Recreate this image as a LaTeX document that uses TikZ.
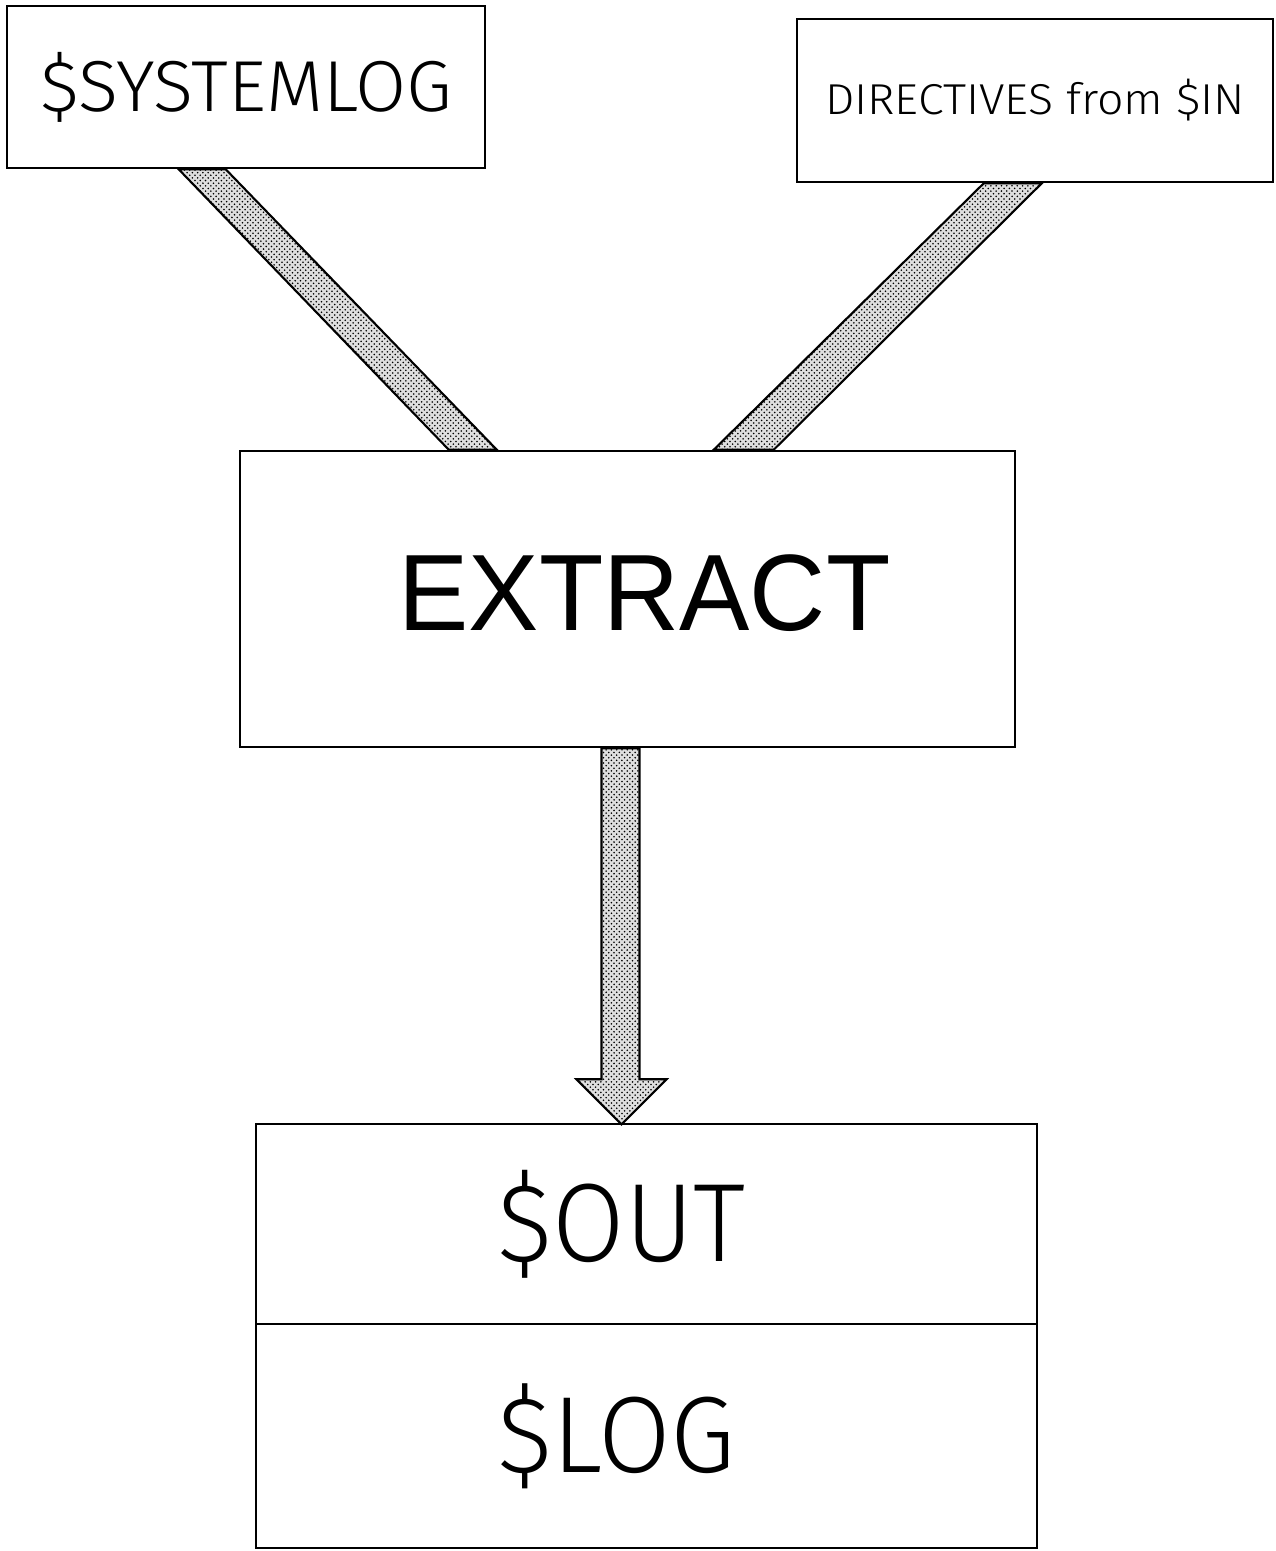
\documentclass[tikz,border=0pt]{standalone}
\usepackage{fontspec}
\setmainfont{Liberation Sans}
\IfFontExistsTF{Fira Sans Light}{\newfontfamily\thinfont{Fira Sans Light}}{%
  \IfFontExistsTF{DejaVu Sans ExtraLight}{\newfontfamily\thinfont{DejaVu Sans ExtraLight}}{%
    \newfontfamily\thinfont{Liberation Sans}}}
\usepackage{graphicx}
\usetikzlibrary{calc,patterns}

\newcommand{\boxtext}[3]{\resizebox{#2}{\height}{\fontsize{#1}{#1}\selectfont #3}}

\begin{document}
\begin{tikzpicture}[x=0.02cm,y=-0.02cm]
\tikzstyle{box}=[draw,line width=1.5pt,inner sep=0pt,fill=white]
\tikzstyle{band}=[draw,line width=1.2pt,preaction={fill=gray!25},pattern=crosshatch dots]

\fill[white,use as bounding box] (0,0) rectangle (1275,1551);

\node[box,minimum width=9.56cm,minimum height=3.24cm] (syslog) at (246,87) {\boxtext{41.1pt}{8.24cm}{\thinfont\$SYSTEMLOG}};
\node[box,minimum width=9.52cm,minimum height=3.26cm] (dirs) at (1035,100.5) {\boxtext{24.6pt}{8.4cm}{\thinfont DIRECTIVES from \$IN}};

\node[box,minimum width=15.5cm,minimum height=5.92cm] (extract) at (627.5,599) {\hspace*{0.68cm}\raisebox{0.26cm}{\boxtext{61.8pt}{9.84cm}{EXTRACT}}};

\node[box,minimum width=15.62cm,minimum height=4cm] (out) at (646.5,1224) {\raisebox{-0.16cm}{\boxtext{63.4pt}{4.96cm}{\thinfont\$OUT}}\hspace*{1cm}};
\node[box,minimum width=15.62cm,minimum height=4.48cm] (log) at (646.5,1436) {\raisebox{-0.1cm}{\boxtext{61.7pt}{4.76cm}{\thinfont\$LOG}}\hspace*{1.2cm}};


\draw[band] ($(syslog.south west)+(173,0)$) -- ($(syslog.south west)+(220,0)$)
  -- ($(extract.north west)+(258,0)$) -- ($(extract.north west)+(210,0)$) -- cycle;
\draw[band] ($(dirs.south west)+(188,0)$) -- ($(dirs.south west)+(246,0)$)
  -- ($(extract.north west)+(535,0)$) -- ($(extract.north west)+(475,0)$) -- cycle;

\draw[band] (extract.south) ++(-26,0) -- ++(0,331) -- ++(-25,0) -- ++(45,45)
  -- ++(45,-45) -- ++(-27,0) -- ++(0,-331) -- cycle;

\end{tikzpicture}
\end{document}
